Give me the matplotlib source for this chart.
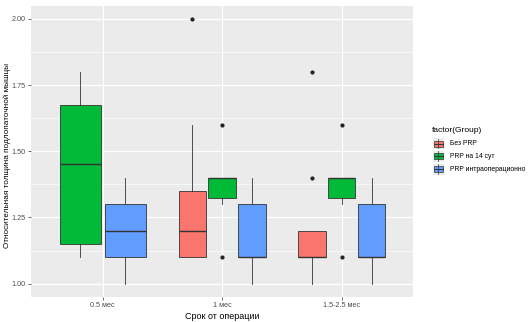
import matplotlib
matplotlib.use('Agg')
import matplotlib.pyplot as plt
from matplotlib.patches import Rectangle
from matplotlib.lines import Line2D

plt.rcParams['font.family'] = ['Liberation Sans', 'DejaVu Sans']

# data
periods = ['0.5 мес', '1 мес', '1.5-2.5 мес']
groups = ['Без PRP', 'PRP на 14 сут', 'PRP интраоперационно']
colors = ['#F8766D', '#00BA38', '#619CFF']

# one entry per box: (period index, group index)
box_period = [0, 0, 1, 1, 1, 2, 2, 2]
box_group = [1, 2, 0, 1, 2, 0, 1, 2]
whislo = [1.10, 1.00, 1.10, 1.30, 1.00, 1.00, 1.30, 1.00]
q1 = [1.15, 1.10, 1.10, 1.325, 1.10, 1.10, 1.325, 1.10]
med = [1.45, 1.20, 1.20, 1.40, 1.10, 1.10, 1.40, 1.10]
q3 = [1.675, 1.30, 1.35, 1.40, 1.30, 1.20, 1.40, 1.30]
whishi = [1.80, 1.40, 1.60, 1.40, 1.40, 1.20, 1.40, 1.40]
fliers = [[], [], [2.0], [1.6, 1.1], [], [1.8, 1.4], [1.6, 1.1], []]

fig = plt.figure(figsize=(5.31, 3.22), dpi=100)
ax = fig.add_axes([0.0584, 0.078, 0.7202, 0.9045])
ax.set_facecolor('#EBEBEB')

# dodge positions like ggplot
n_in_period = [box_period.count(p) for p in range(len(periods))]
seen = [0] * len(periods)
positions = []
widths = []
for p in box_period:
    n = n_in_period[p]
    step = 0.75 / n
    positions.append(p + 1 - 0.375 + step * (seen[p] + 0.5))
    widths.append(step * 0.92)
    seen[p] += 1

stats = []
for i in range(len(box_period)):
    stats.append(dict(whislo=whislo[i], q1=q1[i], med=med[i], q3=q3[i],
                      whishi=whishi[i], fliers=fliers[i]))

edge = '#333333'
bp = ax.bxp(stats, positions=positions, widths=widths, patch_artist=True,
            showcaps=False, manage_ticks=False,
            boxprops=dict(edgecolor=edge, linewidth=0.6),
            whiskerprops=dict(color=edge, linewidth=0.6),
            medianprops=dict(color=edge, linewidth=1.0),
            flierprops=dict(marker='o', markersize=2, markerfacecolor='#222222',
                            markeredgecolor='#222222', linestyle='none'))
for patch, g in zip(bp['boxes'], box_group):
    patch.set_facecolor(colors[g])
    patch.set_zorder(3)
for ln in bp['whiskers'] + bp['medians'] + bp['fliers']:
    ln.set_zorder(4)

ax.set_xlim(0.4, 3.6)
ax.set_ylim(0.95, 2.05)
ax.set_xticks([1, 2, 3])
ax.set_xticklabels(periods)
ax.set_yticks([1.0, 1.25, 1.5, 1.75, 2.0])
ax.set_yticklabels(['1.00', '1.25', '1.50', '1.75', '2.00'])
ax.set_yticks([1.125, 1.375, 1.625, 1.875], minor=True)
ax.grid(True, which='major', color='white', linewidth=0.9, zorder=0)
ax.grid(True, which='minor', axis='y', color='white', linewidth=0.45, zorder=0)
ax.set_axisbelow(True)
for s in ax.spines.values():
    s.set_visible(False)
ax.tick_params(which='major', length=2, width=0.5, color='#333333',
               labelsize=5.2, labelcolor='#4D4D4D', pad=2)
ax.tick_params(which='minor', length=0)

ax.set_xlabel('Срок от операции', fontsize=6.5, labelpad=2)
ax.set_ylabel('Относительная толщина подлопаточной мышцы', fontsize=5.9)
ax.yaxis.set_label_coords(-0.052, 0.485)

# legend drawn by hand like the ggplot guide
W, H = 531.0, 322.0
fig.text(432 / W, 1 - 130 / H, 'factor(Group)', fontsize=6.0, va='center', ha='left')
for k, (g, c) in enumerate(zip(groups, colors)):
    yc = 143.5 + 12.8 * k
    x0, x1 = 433.0, 443.5
    fig.patches.append(Rectangle((x0 / W, 1 - (yc + 5.5) / H), (x1 - x0) / W, 11 / H,
                                 transform=fig.transFigure, facecolor='#EBEBEB',
                                 edgecolor='none'))
    fig.lines.append(Line2D([(x0 + x1) / 2 / W] * 2, [1 - (yc + 5) / H, 1 - (yc - 5) / H],
                            transform=fig.transFigure, color=edge, linewidth=0.5))
    fig.patches.append(Rectangle(((x0 + 0.5) / W, 1 - (yc + 3) / H), (x1 - x0 - 1) / W, 6 / H,
                                 transform=fig.transFigure, facecolor=c,
                                 edgecolor=edge, linewidth=0.5))
    fig.lines.append(Line2D([(x0 + 0.5) / W, (x1 - 0.5) / W], [1 - yc / H] * 2,
                            transform=fig.transFigure, color=edge, linewidth=0.7))
    fig.text(450 / W, 1 - yc / H, g, fontsize=4.9, va='center', ha='left')

fig.savefig('out.png', dpi=100)
